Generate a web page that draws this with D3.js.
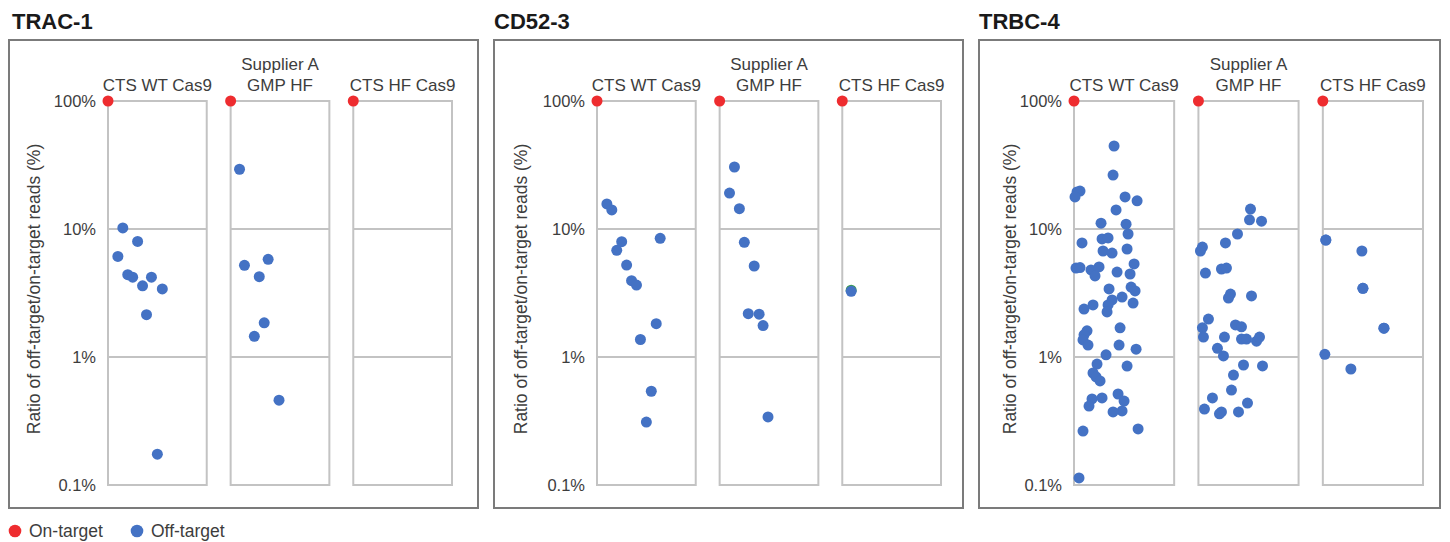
<!DOCTYPE html>
<html>
<head>
<meta charset="utf-8">
<script src="https://cdn.jsdelivr.net/npm/d3@7"></script>
<style>
  body { margin: 0; background: #fff; }
  text { font-family: "Liberation Sans", Arial, Helvetica, sans-serif; fill: #3d3d3d; }
</style>
</head>
<body>
<div id="chart"></div>
<script>
// panel titles, categories, ticks
var panels = ["TRAC-1", "CD52-3", "TRBC-4"];
var categories = [["CTS WT Cas9"], ["Supplier A", "GMP HF"], ["CTS HF Cas9"]];
var yTicks = [100, 10, 1, 0.1];
var tickLabels = ["100%", "10%", "1%", "0.1%"];
var onTargetValue = 100;

// off-target points: [jitter within group (0-1), ratio %]
var trac1_wt = [[0.15,10.2],[0.30,8.0],[0.10,6.1],[0.20,4.4],[0.25,4.2],[0.35,3.6],[0.44,4.2],[0.55,3.4],[0.39,2.14],[0.50,0.174]];
var trac1_supA = [[0.09,29.3],[0.38,5.8],[0.14,5.2],[0.29,4.24],[0.34,1.85],[0.24,1.45],[0.49,0.46]];
var trac1_hf = [];

var cd52_wt = [[0.10,15.7],[0.15,14.1],[0.25,7.96],[0.20,6.82],[0.64,8.46],[0.30,5.23],[0.35,3.95],[0.40,3.65],[0.60,1.82],[0.44,1.37],[0.55,0.54],[0.50,0.31]];
var cd52_supA = [[0.15,30.5],[0.10,19.1],[0.20,14.4],[0.25,7.87],[0.35,5.14],[0.29,2.18],[0.40,2.16],[0.44,1.76],[0.49,0.34]];
var cd52_hf = [[0.09,3.26]];
var cd52_hf_other = [[0.09,3.33]];

var trbc4_wt = [[0.40,44.5],[0.39,26.4],[0.06,19.8],[0.03,19.5],[0.01,17.8],[0.51,17.8],[0.63,16.6],[0.42,14.1],
  [0.27,11.1],[0.52,10.9],[0.54,9.14],[0.08,7.78],[0.28,8.36],[0.34,8.51],[0.29,6.73],[0.38,6.49],[0.53,6.98],
  [0.02,4.95],[0.06,5.0],[0.17,4.79],[0.25,5.05],[0.21,4.30],[0.43,4.61],[0.56,4.45],[0.60,5.33],[0.35,3.40],
  [0.57,3.52],[0.61,3.28],[0.48,2.94],[0.38,2.79],[0.34,2.55],[0.59,2.64],[0.19,2.55],[0.10,2.37],[0.33,2.25],
  [0.13,1.60],[0.10,1.49],[0.09,1.36],[0.14,1.24],[0.46,1.69],[0.45,1.24],[0.62,1.15],[0.32,1.04],[0.23,0.88],
  [0.53,0.85],[0.19,0.75],[0.22,0.70],[0.26,0.65],[0.18,0.47],[0.15,0.414],[0.28,0.479],[0.44,0.514],[0.50,0.453],
  [0.48,0.379],[0.39,0.372],[0.64,0.274],[0.09,0.264],[0.05,0.1135]];
var trbc4_supA = [[0.52,14.3],[0.51,11.8],[0.63,11.5],[0.39,9.14],[0.27,7.78],[0.04,7.23],[0.02,6.73],[0.07,4.53],
  [0.23,4.87],[0.28,4.95],[0.32,3.10],[0.30,2.89],[0.53,3.00],[0.10,1.98],[0.04,1.69],[0.05,1.43],[0.37,1.78],
  [0.43,1.72],[0.26,1.43],[0.43,1.38],[0.48,1.38],[0.58,1.33],[0.61,1.43],[0.19,1.17],[0.25,1.02],[0.45,0.866],
  [0.64,0.851],[0.35,0.723],[0.33,0.552],[0.14,0.479],[0.06,0.392],[0.23,0.372],[0.21,0.36],[0.40,0.372],[0.49,0.437]];
var trbc4_hf = [[0.03,8.2],[0.03,8.2],[0.39,6.73],[0.40,3.44],[0.40,3.44],[0.61,1.68],[0.61,1.68],[0.02,1.05],[0.28,0.806]];

var offTarget = [
  [trac1_wt, trac1_supA, trac1_hf],
  [cd52_wt, cd52_supA, cd52_hf],
  [trbc4_wt, trbc4_supA, trbc4_hf]
];
var otherSeries = [[[], [], []], [[], [], cd52_hf_other], [[], [], []]];

var colors = { on: "#ee2c2f", off: "#4472c4", other: "#3a9a55" };

var W = 1450, H = 542;
var boxTop = 40, boxBottom = 508;
var layout = [
  { left: 9,   width: 469, band: [99, 443], labelX: 25, titleX: 3 },
  { left: 494, width: 469, band: [103, 447], labelX: 27, titleX: 0 },
  { left: 979, width: 461, band: [95, 444], labelX: 31, titleX: 0 }
];

var svg = d3.select("#chart").append("svg")
  .attr("width", W)
  .attr("height", H);

var y = d3.scaleLog()
  .domain([0.1, 100])
  .range([485, 101]);

panels.forEach(function(title, p) {
  var L = layout[p];
  var g = svg.append("g").attr("transform", "translate(" + L.left + ",0)");

  var x = d3.scaleBand()
    .domain(d3.range(categories.length))
    .range(L.band)
    .paddingInner(0.195)
    .paddingOuter(0);

  g.append("text")
    .attr("x", L.titleX)
    .attr("y", 29)
    .style("font-size", "22px")
    .style("font-weight", "bold")
    .style("fill", "#1a1a1a")
    .text(title);

  g.append("rect")
    .attr("x", 0)
    .attr("y", boxTop)
    .attr("width", L.width)
    .attr("height", boxBottom - boxTop)
    .attr("fill", "none")
    .attr("stroke", "#7b7b7b")
    .attr("stroke-width", 2);

  // y label
  g.append("text")
    .attr("transform", "translate(" + L.labelX + ",289)rotate(-90)")
    .attr("text-anchor", "middle")
    .attr("dy", "0.35em")
    .style("font-size", "17.5px")
    .text("Ratio of off-target/on-target reads (%)");

  // tick labels
  g.selectAll(".tick-label")
    .data(yTicks)
    .enter()
    .append("text")
    .attr("x", x(0) - 12)
    .attr("y", function(d) { return y(d); })
    .attr("dy", "0.36em")
    .attr("text-anchor", "end")
    .style("font-size", "16.5px")
    .text(function(d, i) { return tickLabels[i]; });

  categories.forEach(function(lines, c) {
    var x0 = x(c), bw = x.bandwidth();

    // group frame
    g.append("rect")
      .attr("x", x0)
      .attr("y", y(100))
      .attr("width", bw)
      .attr("height", y(0.1) - y(100))
      .attr("fill", "none")
      .attr("stroke", "#c3c3c3")
      .attr("stroke-width", 2);

    g.selectAll(null)
      .data([10, 1])
      .enter()
      .append("line")
      .attr("x1", x0)
      .attr("x2", x0 + bw)
      .attr("y1", function(d) { return y(d); })
      .attr("y2", function(d) { return y(d); })
      .attr("stroke", "#c3c3c3")
      .attr("stroke-width", 2);

    // category label
    var lab = g.append("text")
      .attr("text-anchor", "middle")
      .style("font-size", "17px");
    lab.selectAll("tspan")
      .data(lines)
      .enter()
      .append("tspan")
      .attr("x", x0 + bw / 2)
      .attr("y", function(d, i) { return 91 - (lines.length - 1 - i) * 21; })
      .text(function(d) { return d; });

    var jx = d3.scaleLinear().domain([0, 1]).range([x0, x0 + bw]);

    g.selectAll(null)
      .data(otherSeries[p][c])
      .enter()
      .append("circle")
      .attr("cx", function(d) { return jx(d[0]); })
      .attr("cy", function(d) { return y(d[1]); })
      .attr("r", 5.5)
      .attr("fill", colors.other);

    g.selectAll(null)
      .data(offTarget[p][c])
      .enter()
      .append("circle")
      .attr("cx", function(d) { return jx(d[0]); })
      .attr("cy", function(d) { return y(d[1]); })
      .attr("r", 5.5)
      .attr("fill", colors.off);

    g.append("circle")
      .attr("cx", jx(0))
      .attr("cy", y(onTargetValue))
      .attr("r", 5.5)
      .attr("fill", colors.on);
  });
});

// legend
var legend = [["On-target", colors.on], ["Off-target", colors.off]];
var lg = svg.selectAll(".legend")
  .data(legend)
  .enter()
  .append("g")
  .attr("transform", function(d, i) { return "translate(" + (15 + i * 122) + ",531)"; });
lg.append("circle")
  .attr("r", 6.3)
  .attr("fill", function(d) { return d[1]; });
lg.append("text")
  .attr("x", 14)
  .attr("dy", "0.35em")
  .style("font-size", "17.5px")
  .text(function(d) { return d[0]; });
</script>
</body>
</html>
